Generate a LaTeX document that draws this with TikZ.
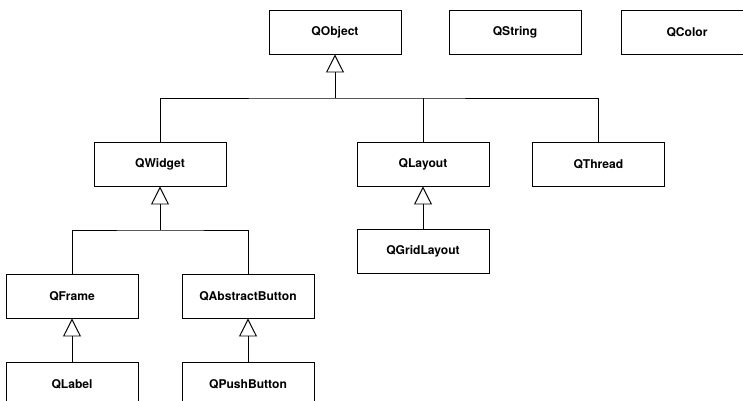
\documentclass[tikz,border=0pt]{standalone}
\usepackage{fontspec}
\setmainfont{TeX Gyre Heros}
\usepackage{tikz}
\usetikzlibrary{arrows.meta}

\tikzset{
  qclass/.style={draw, line width=0.7pt, minimum width=3.3cm, minimum height=1.1cm,
    inner sep=0pt, font=\fontsize{8.6}{10}\selectfont\bfseries},
  inherit/.style={line width=0.7pt, -{Triangle[open, length=0.45cm, width=0.45cm]}},
  link/.style={line width=0.7pt}
}

\begin{document}
\begin{tikzpicture}
    \useasboundingbox (0,0) rectangle (18.575,-10.025);
    \begin{scope}
    \clip (0,0) rectangle (18.575,-10.025);

    \node[qclass] (QObject) at (8.375,-0.8) {QObject};
    \node[qclass] (QString) at (12.875,-0.8) {QString};
    \node[qclass] (QColor) at (17.175,-0.8) {QColor};

    \node[qclass] (QWidget) at (4.0,-4.1) {QWidget};
    \node[qclass] (QLayout) at (10.575,-4.1) {QLayout};
    \node[qclass] (QThread) at (14.96,-4.1) {QThread};

    \node[qclass] (QGridLayout) at (10.575,-6.29) {QGridLayout};
    \node[qclass] (QFrame) at (1.8,-7.4) {QFrame};
    \node[qclass] (QAbstractButton) at (6.2,-7.4) {QAbstractButton};

    \node[qclass] (QLabel) at (1.8,-9.6) {QLabel};
    \node[qclass] (QPushButton) at (6.2,-9.6) {QPushButton};

    \coordinate (objbar) at (8.375,-2.45);
    \coordinate (widgetbar) at (4.0,-5.75);

    % QObject and its children
    \draw[inherit] (objbar) -- (QObject);
    \draw[link] (QWidget) |- (objbar) -| (QThread);
    \draw[link] (QLayout) -- (QLayout |- objbar);

    % QWidget and its children
    \draw[inherit] (widgetbar) -- (QWidget);
    \draw[link] (QFrame) |- (widgetbar) -| (QAbstractButton);

    \draw[inherit] (QGridLayout) -- (QLayout);
    \draw[inherit] (QLabel) -- (QFrame);
    \draw[inherit] (QPushButton) -- (QAbstractButton);
    \end{scope}
\end{tikzpicture}
\end{document}
